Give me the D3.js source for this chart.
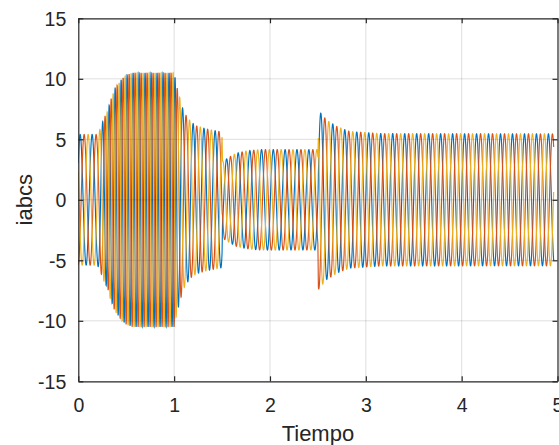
<!DOCTYPE html>
<html>
<head>
<meta charset="utf-8">
<script src="https://cdn.jsdelivr.net/npm/d3@7"></script>
<style>
  html, body { margin: 0; padding: 0; background: #ffffff; }
  svg { display: block; }
  text { font-family: "Liberation Sans", Arial, Helvetica, sans-serif; fill: #262626; }
</style>
</head>
<body>
<svg id="chart" width="559" height="445"></svg>
<script>
// ---- data ----
const xTicks = [0, 1, 2, 3, 4, 5];
const yTicks = [-15, -10, -5, 0, 5, 10, 15];
const xLabel = "Tiempo";
const yLabel = "iabcs";
const seriesNames = ["ia", "ib", "ic"];
const seriesColors = ["#0072BD", "#D95319", "#EDB120"];
const phaseOffsets = [0, -2 * Math.PI / 3, 2 * Math.PI / 3];
// envelope (peak amplitude) of the three currents vs time
const envTime = [0, 0.20, 0.23, 0.26, 0.31, 0.33, 0.36, 0.38, 0.42, 0.45, 0.50, 0.57, 1.00, 1.03, 1.06, 1.095, 1.13, 1.18, 1.235, 1.34, 1.50, 1.505, 1.53, 1.58, 1.65, 1.76, 1.90, 2.50, 2.505, 2.59, 2.70, 2.83, 3.15, 4.96];
const envAmp  = [5.4, 5.4, 5.9, 6.6, 7.4, 8.1, 8.7, 9.2, 9.6, 9.95, 10.3, 10.5, 10.5, 9.3, 8.4, 7.4, 6.9, 6.4, 6.1, 5.85, 5.6, 3.2, 3.3, 3.55, 3.85, 4.05, 4.15, 4.15, 7.4, 6.6, 6.05, 5.65, 5.47, 5.45];
// apparent oscillation frequency (Hz) as it shows in the plot
const freqTime = [0, 0.20, 0.30, 1.00, 1.10, 1.50, 2.50, 4.96];
const freqHz   = [8, 8, 16, 16, 9.2, 8.3, 8, 8];
const tEnd = 4.96;
const dt = 0.001;

// ---- layout ----
const W = 559, H = 445;
const m = { left: 78.3, right: W - 557.5, top: 18.3, bottom: H - 381.3 };
const svg = d3.select("#chart");
const x = d3.scaleLinear().domain([0, 5]).range([m.left, W - m.right]);
const y = d3.scaleLinear().domain([-15, 15]).range([H - m.bottom, m.top]);

const envScale = d3.scaleLinear().domain(envTime).range(envAmp).clamp(true);
const freqScale = d3.scaleLinear().domain(freqTime).range(freqHz).clamp(true);

// build series
const times = d3.range(0, tEnd + dt / 2, dt);
let phase = 0;
const phases = times.map((t, i) => {
  if (i > 0) phase += 2 * Math.PI * freqScale(t) * dt;
  return phase;
});
const series = seriesNames.map((name, k) => ({
  name, color: seriesColors[k],
  values: times.map((t, i) => ({ t, v: envScale(t) * Math.sin(phases[i] + phaseOffsets[k] + 0.6) }))
}));

svg.append("rect").attr("x", 0).attr("y", 0).attr("width", W).attr("height", H).attr("fill", "#fff");

svg.append("defs").append("clipPath").attr("id", "clip")
  .append("rect").attr("x", x(0)).attr("y", y(15)).attr("width", x(5) - x(0)).attr("height", y(-15) - y(15));

const line = d3.line().x(d => x(d.t)).y(d => y(d.v));
const plot = svg.append("g").attr("clip-path", "url(#clip)");
series.forEach(s => {
  plot.append("path").datum(s.values).attr("d", line)
    .attr("fill", "none").attr("stroke", s.color).attr("stroke-width", 1.15);
});

// grid (drawn over data, translucent like MATLAB)
const grid = svg.append("g");
xTicks.slice(1, -1).forEach(t => {
  grid.append("line").attr("x1", x(t)).attr("x2", x(t)).attr("y1", y(15)).attr("y2", y(-15))
    .attr("stroke", "rgba(38,38,38,0.15)").attr("stroke-width", 1);
});
yTicks.slice(1, -1).forEach(t => {
  grid.append("line").attr("y1", y(t)).attr("y2", y(t)).attr("x1", x(0)).attr("x2", x(5))
    .attr("stroke", "rgba(38,38,38,0.15)").attr("stroke-width", 1);
});

// axes (box, inward ticks)
const axisColor = "#262626";
const tickLen = 5;
const fmt = d => String(d);
const axBottom = d3.axisBottom(x).tickValues(xTicks).tickFormat(fmt).tickSizeInner(-tickLen).tickSizeOuter(0).tickPadding(tickLen + 10);
const axTop = d3.axisTop(x).tickValues(xTicks).tickSizeInner(-tickLen).tickSizeOuter(0).tickFormat("");
const axLeft = d3.axisLeft(y).tickValues(yTicks).tickFormat(fmt).tickSizeInner(-tickLen).tickSizeOuter(0).tickPadding(tickLen + 7);
const axRight = d3.axisRight(y).tickValues(yTicks).tickSizeInner(-tickLen).tickSizeOuter(0).tickFormat("");

function styleAxis(g) {
  g.select(".domain").attr("stroke", axisColor).attr("stroke-width", 1.2);
  g.selectAll(".tick line").attr("stroke", axisColor).attr("stroke-width", 1.2);
  g.selectAll(".tick text").attr("fill", axisColor).style("font-size", "19.5px")
    .style("font-family", '"Liberation Sans", Arial, sans-serif');
}
const gB = svg.append("g").attr("transform", `translate(0,${y(-15)})`).call(axBottom).call(styleAxis);
gB.selectAll(".tick text").attr("dy", null).attr("y", 0).attr("dominant-baseline", "alphabetic")
  .attr("transform", "translate(0,31)");
svg.append("g").attr("transform", `translate(0,${y(15)})`).call(axTop).call(styleAxis);
const gL = svg.append("g").attr("transform", `translate(${x(0)},0)`).call(axLeft).call(styleAxis);
gL.selectAll(".tick text").attr("dy", "0.36em");
svg.append("g").attr("transform", `translate(${x(5)},0)`).call(axRight).call(styleAxis);

// labels
svg.append("text").attr("x", (x(0) + x(5)) / 2).attr("y", 441)
  .attr("text-anchor", "middle").style("font-size", "22px").text(xLabel);
svg.append("text").attr("transform", `translate(31.5,${(y(15) + y(-15)) / 2}) rotate(-90)`)
  .attr("text-anchor", "middle").style("font-size", "22px").text(yLabel);
</script>
</body>
</html>
